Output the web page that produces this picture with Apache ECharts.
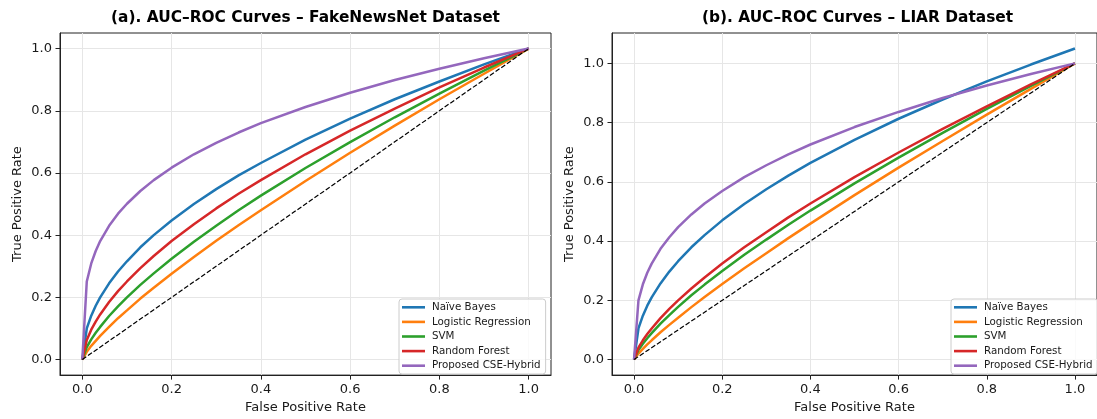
<!DOCTYPE html>
<html>
<head>
<meta charset="utf-8">
<script src="https://cdn.jsdelivr.net/npm/echarts@6/dist/echarts.min.js"></script>
<style>
html,body{margin:0;padding:0;background:#fff;}
#chart{width:1097px;height:419px;}
</style>
</head>
<body>
<div id="chart"></div>
<script>
// ---- Data ----
const titles = ['(a). AUC–ROC Curves – FakeNewsNet Dataset', '(b). AUC–ROC Curves – LIAR Dataset'];
const modelNames = ['Naïve Bayes', 'Logistic Regression', 'SVM', 'Random Forest', 'Proposed CSE-Hybrid'];
const tickValues = [0, 0.2, 0.4, 0.6, 0.8, 1.0];
const fpr = [0, 0.01, 0.02, 0.03, 0.04, 0.06, 0.08, 0.1, 0.13, 0.16, 0.2, 0.25, 0.3, 0.35, 0.4, 0.5, 0.6, 0.7, 0.8, 0.9, 1.0];
const diagonal = [0, 1];

// FakeNewsNet
const fnnNaiveBayes = [0, 0.100, 0.141, 0.173, 0.200, 0.245, 0.283, 0.316, 0.361, 0.400, 0.447, 0.500, 0.548, 0.592, 0.632, 0.707, 0.775, 0.837, 0.894, 0.949, 1.0];
const fnnLogReg     = [0, 0.025, 0.044, 0.060, 0.076, 0.105, 0.133, 0.158, 0.196, 0.231, 0.276, 0.330, 0.382, 0.432, 0.480, 0.574, 0.665, 0.752, 0.837, 0.919, 1.0];
const fnnSVM        = [0, 0.040, 0.065, 0.086, 0.105, 0.140, 0.171, 0.200, 0.240, 0.277, 0.324, 0.379, 0.430, 0.480, 0.527, 0.616, 0.699, 0.779, 0.855, 0.929, 1.0];
const fnnRF         = [0, 0.063, 0.096, 0.122, 0.145, 0.185, 0.220, 0.251, 0.294, 0.333, 0.381, 0.435, 0.486, 0.533, 0.577, 0.660, 0.736, 0.807, 0.875, 0.939, 1.0];
const fnnHybrid     = [0, 0.251, 0.309, 0.349, 0.381, 0.430, 0.469, 0.501, 0.542, 0.577, 0.617, 0.660, 0.697, 0.730, 0.760, 0.812, 0.858, 0.899, 0.935, 0.969, 1.0];

// LIAR
const liarNaiveBayes = [0, 0.105, 0.148, 0.182, 0.210, 0.257, 0.297, 0.332, 0.379, 0.420, 0.470, 0.525, 0.575, 0.621, 0.664, 0.742, 0.813, 0.878, 0.939, 0.996, 1.05];
const liarLogReg     = [0, 0.020, 0.036, 0.051, 0.065, 0.092, 0.117, 0.141, 0.177, 0.211, 0.255, 0.308, 0.359, 0.410, 0.459, 0.555, 0.648, 0.738, 0.827, 0.914, 1.0];
const liarSVM        = [0, 0.032, 0.053, 0.072, 0.089, 0.121, 0.150, 0.178, 0.217, 0.253, 0.299, 0.354, 0.405, 0.455, 0.503, 0.595, 0.682, 0.765, 0.846, 0.924, 1.0];
const liarRF         = [0, 0.040, 0.065, 0.086, 0.105, 0.140, 0.171, 0.200, 0.240, 0.277, 0.324, 0.379, 0.430, 0.480, 0.527, 0.616, 0.699, 0.779, 0.855, 0.929, 1.0];
const liarHybrid     = [0, 0.200, 0.254, 0.293, 0.324, 0.374, 0.413, 0.447, 0.490, 0.527, 0.569, 0.616, 0.656, 0.693, 0.726, 0.785, 0.836, 0.883, 0.925, 0.964, 1.0];

const colors = ['#1f77b4', '#ff7f0e', '#2ca02c', '#d62728', '#9467bd'];
const fnnSets = [fnnNaiveBayes, fnnLogReg, fnnSVM, fnnRF, fnnHybrid];
const liarSets = [liarNaiveBayes, liarLogReg, liarSVM, liarRF, liarHybrid];

const font = 'DejaVu Sans';
const txt = '#1a1a1a';

function xAxisFor(gi, min, max) {
  return {
    type: 'value', gridIndex: gi, min: min, max: max,
    name: 'False Positive Rate', nameLocation: 'middle', nameGap: 24,
    nameTextStyle: { fontFamily: font, fontSize: 13, color: txt },
    axisLine: { show: true, onZero: false, lineStyle: { color: '#222', width: 1 } },
    axisTick: { show: true, length: 4.5, lineStyle: { color: '#222' }, customValues: tickValues },
    axisLabel: { fontFamily: font, fontSize: 13, color: txt, margin: 8, customValues: tickValues,
                 formatter: v => v.toFixed(1) },
    splitLine: { show: true, lineStyle: { color: '#e6e6e6', width: 1 } }
  };
}
function yAxisFor(gi, min, max) {
  return {
    type: 'value', gridIndex: gi, min: min, max: max,
    name: 'True Positive Rate', nameLocation: 'middle', nameGap: 36,
    nameTextStyle: { fontFamily: font, fontSize: 13, color: txt },
    axisLine: { show: true, onZero: false, lineStyle: { color: '#222', width: 1 } },
    axisTick: { show: true, length: 4.5, lineStyle: { color: '#222' }, customValues: tickValues },
    axisLabel: { fontFamily: font, fontSize: 13, color: txt, margin: 8, customValues: tickValues,
                 formatter: v => v.toFixed(1) },
    splitLine: { show: true, lineStyle: { color: '#e6e6e6', width: 1 } }
  };
}

const series = [];
[fnnSets, liarSets].forEach((sets, gi) => {
  sets.forEach((ys, i) => {
    series.push({
      name: modelNames[i], type: 'line', xAxisIndex: gi, yAxisIndex: gi,
      data: fpr.map((x, k) => [x, ys[k]]),
      symbol: 'none', smooth: false, color: colors[i],
      lineStyle: { width: 2.5, color: colors[i] }, z: 2 + i
    });
  });
  series.push({
    name: 'Random', type: 'line', xAxisIndex: gi, yAxisIndex: gi,
    data: diagonal.map(v => [v, v]), symbol: 'none',
    lineStyle: { color: '#000', width: 1.2, type: [4.8, 2.1] }, z: 10
  });
});

function legendFor(left) {
  return {
    data: modelNames, orient: 'vertical', left: left, top: 299,
    icon: 'rect', itemWidth: 23, itemHeight: 2.6, itemGap: 2,
    padding: [2, 5, 2, 3],
    backgroundColor: 'rgba(255,255,255,0.8)', borderColor: '#cccccc', borderWidth: 1, borderRadius: 3,
    textStyle: { fontFamily: font, fontSize: 10.3, color: txt, lineHeight: 12.6, padding: [0, 0, 0, 2] },
    selectedMode: false
  };
}

const chart = echarts.init(document.getElementById('chart'), null, { renderer: 'canvas' });
chart.setOption({
  backgroundColor: '#fff',
  animation: false,
  title: [
    { text: titles[0], left: 305.5, top: 10, textAlign: 'center', padding: 0,
      textStyle: { fontFamily: font, fontSize: 15.4, fontWeight: 'bold', color: '#000' } },
    { text: titles[1], left: 857.5, top: 10, textAlign: 'center', padding: 0,
      textStyle: { fontFamily: font, fontSize: 15.4, fontWeight: 'bold', color: '#000' } }
  ],
  grid: [
    { left: 60, top: 33, width: 491, height: 347, show: true, borderColor: '#222', borderWidth: 1, backgroundColor: 'transparent' },
    { left: 612, top: 33, width: 491, height: 347, show: true, borderColor: '#222', borderWidth: 1, backgroundColor: 'transparent' }
  ],
  xAxis: [xAxisFor(0, -0.05, 1.05), xAxisFor(1, -0.05, 1.05)],
  yAxis: [yAxisFor(0, -0.05, 1.05), yAxisFor(1, -0.0525, 1.1025)],
  legend: [legendFor(399), legendFor(951)],
  series: series
});
</script>
</body>
</html>
